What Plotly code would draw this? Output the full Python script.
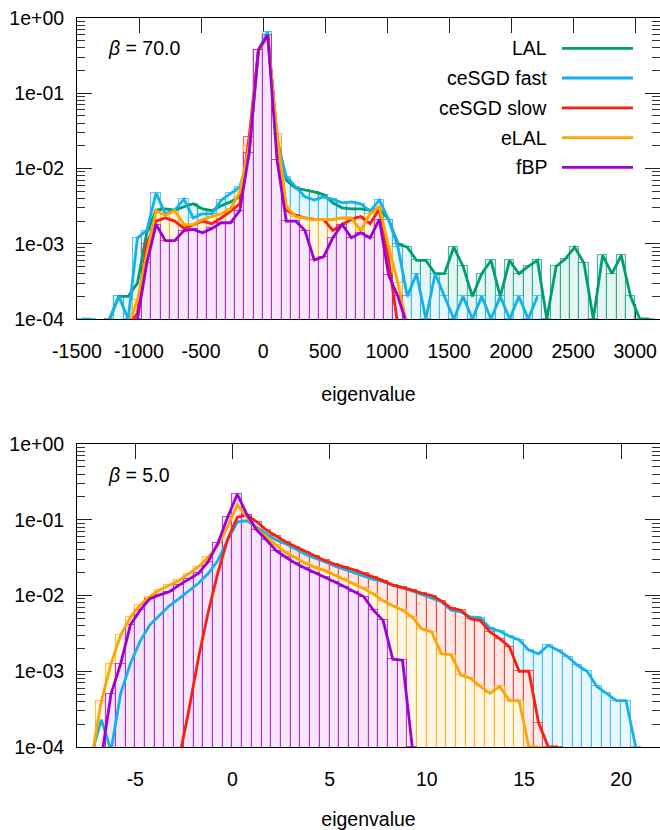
import plotly.graph_objects as go

# ---------------- data ----------------
SERIES = ["LAL", "ceSGD fast", "ceSGD slow", "eLAL", "fBP"]
COLORS = ["#009e73", "#14b2e8", "#fa2010", "#ffa500", "#a000d2"]

TOP_BINS = [-1462.5, -1387.5, -1312.5, -1237.5, -1162.5, -1087.5, -1012.5, -937.5,
            -862.5, -787.5, -712.5, -637.5, -562.5, -487.5, -412.5, -337.5,
            -262.5, -187.5, -112.5, -37.5, 37.5, 112.5, 187.5, 262.5,
            337.5, 412.5, 487.5, 562.5, 637.5, 712.5, 787.5, 862.5,
            937.5, 1012.5, 1087.5, 1162.5, 1237.5, 1312.5, 1387.5, 1462.5,
            1537.5, 1612.5, 1687.5, 1762.5, 1837.5, 1912.5, 1987.5, 2062.5,
            2137.5, 2212.5, 2287.5, 2362.5, 2437.5, 2512.5, 2587.5, 2662.5,
            2737.5, 2812.5, 2887.5, 2962.5, 3037.5, 3112.5]

TOP_LAL = [None, None, None, 1e-4, 2e-4, 2e-4, 3e-4, 1.4e-3,
           2.8e-3, 2.9e-3, 2.8e-3, 3.1e-3, 3.4e-3, 2.9e-3, 2.75e-3, 3.2e-3,
           3.6e-3, 4.2e-3, 0.02, 0.37, 0.60, 0.025, 7.0e-3, 5.5e-3,
           5.2e-3, 4.9e-3, 4.5e-3, 3.5e-3, 3.0e-3, 2.9e-3, 2.9e-3, 2.8e-3,
           2.9e-3, 2.1e-3, 1.0e-3, 9e-4, 6e-4, 6e-4, 4e-4, 4e-4,
           9e-4, 5e-4, 2e-4, 4e-4, 6e-4, 2e-4, 6e-4, 4e-4,
           5e-4, 6e-4, 1e-4, 5e-4, 6.3e-4, 9e-4, 5.5e-4, 1e-4,
           7e-4, 4e-4, 7e-4, 2e-4, 1e-4, 1e-4]

TOP_FAST = [1e-4, 1e-4, None, 1e-4, 2e-4, 1e-4, 1.2e-3, 1.5e-3,
            4.7e-3, 2.5e-3, 2.8e-3, 3.9e-3, 2.2e-3, 2.5e-3, 2.5e-3, 3.8e-3,
            4.7e-3, 5.7e-3, 0.015, 0.37, 0.66, 0.022, 7.8e-3, 5.7e-3,
            4.2e-3, 3.8e-3, 4.2e-3, 3.9e-3, 3.5e-3, 3.6e-3, 3.4e-3, 2.7e-3,
            3.8e-3, 2.1e-3, 9e-4, 2e-4, 4e-4, 1e-4, 4e-4, 2e-4,
            1e-4, 2e-4, 1e-4, 2e-4, 1e-4, 2e-4, 1e-4, 2e-4,
            1e-4, 2e-4, None, None, None, None, None, None,
            None, None, None, None, None, None]

TOP_SLOW = [None, None, None, None, None, 8e-5, 1.2e-4, 1.0e-3,
            2.0e-3, 2.2e-3, 2.0e-3, 1.6e-3, 1.8e-3, 2.0e-3, 1.85e-3, 2.2e-3,
            2.7e-3, 3.4e-3, 0.026, 0.37, 0.58, 0.027, 2.8e-3, 2.4e-3,
            2.2e-3, 2.1e-3, 2.1e-3, 1.5e-3, 1.8e-3, 2.1e-3, 2.3e-3, 1.85e-3,
            2.9e-3, 6e-4, 8e-5, None, None, None, None, None,
            None, None, None, None, None, None, None, None,
            None, None, None, None, None, None, None, None,
            None, None, None, None, None, None]

TOP_ELAL = [None, None, None, None, None, 8e-5, 1.8e-4, 7.4e-4,
            2.75e-3, 2.4e-3, 2.75e-3, 1.8e-3, 1.8e-3, 2.1e-3, 2.3e-3, 2.5e-3,
            2.9e-3, 4.9e-3, 0.02, 0.36, 0.565, 0.029, 3.1e-3, 2.3e-3,
            2.2e-3, 2.1e-3, 2.1e-3, 2.1e-3, 2.2e-3, 2.2e-3, 1.5e-3, 2.5e-3,
            3.1e-3, 9e-4, 3e-4, 8e-5, None, None, None, None,
            None, None, None, None, None, None, None, None,
            None, None, None, None, None, None, None, None,
            None, None, None, None, None, None]

TOP_FBP = [None, None, None, None, None, None, 1e-4, 5.5e-4,
           1.8e-3, 1.1e-3, 1.1e-3, 1.5e-3, 1.55e-3, 1.4e-3, 1.6e-3, 1.9e-3,
           1.9e-3, 2.75e-3, 0.016, 0.376, 0.594, 0.013, 2.0e-3, 2.0e-3,
           1.5e-3, 6.1e-4, 6.7e-4, 1.2e-3, 1.8e-3, 1.2e-3, 1.4e-3, 1.2e-3,
           2.1e-3, 3.8e-4, 2e-4, 8e-5, None, None, None, None,
           None, None, None, None, None, None, None, None,
           None, None, None, None, None, None, None, None,
           None, None, None, None, None, None]

BOT_BINS = [-7.25, -6.75, -6.25, -5.75, -5.25, -4.75, -4.25, -3.75,
            -3.25, -2.75, -2.25, -1.75, -1.25, -0.75, -0.25, 0.25,
            0.75, 1.25, 1.75, 2.25, 2.75, 3.25, 3.75, 4.25,
            4.75, 5.25, 5.75, 6.25, 6.75, 7.25, 7.75, 8.25,
            8.75, 9.25, 9.75, 10.25, 10.75, 11.25, 11.75, 12.25,
            12.75, 13.25, 13.75, 14.25, 14.75, 15.25, 15.75, 16.25,
            16.75, 17.25, 17.75, 18.25, 18.75, 19.25, 19.75, 20.25,
            20.75]

BOT_FAST = [8e-5, 2.3e-4, 9e-5, 5.1e-4, 1.27e-3, 2.5e-3, 4.1e-3, 5.4e-3,
            7.3e-3, 9.1e-3, 0.0115, 0.0145, 0.0195, 0.029, 0.054, 0.094,
            0.097, 0.079, 0.065, 0.054, 0.048, 0.041, 0.035, 0.031,
            0.028, 0.0245, 0.0221, 0.020, 0.018, 0.0163, 0.0152, 0.0137,
            0.0128, 0.0115, 0.0101, 9.1e-3, 8.3e-3, 6.4e-3, 6.1e-3, 5.2e-3,
            5.1e-3, 3.7e-3, 3.4e-3, 2.9e-3, 2.6e-3, 1.9e-3, 1.7e-3, 2.2e-3,
            1.9e-3, 1.56e-3, 1.2e-3, 1.0e-3, 6.3e-4, 5.1e-4, 4.1e-4, 4.1e-4,
            1e-4]

BOT_SLOW = [None, None, None, None, None, None, None, None,
            None, 7e-5, 3e-4, 1.5e-3, 6e-3, 0.02, 0.055, 0.108,
            0.115, 0.094, 0.073, 0.061, 0.051, 0.044, 0.038, 0.033,
            0.029, 0.026, 0.024, 0.0218, 0.0196, 0.0177, 0.0157, 0.0137,
            0.0128, 0.0118, 0.0107, 0.0100, 8.5e-3, 6.8e-3, 6.4e-3, 4.9e-3,
            4.7e-3, 3.3e-3, 2.7e-3, 2.1e-3, 1.0e-3, 1.0e-3, 2.1e-4, 1e-4,
            1e-4, None, None, None, None, None, None, None,
            None]

BOT_ELAL = [7e-5, 4e-4, 1.26e-3, 3.0e-3, 5.2e-3, 7.5e-3, 9.7e-3, 0.0118,
            0.0137, 0.0158, 0.0195, 0.024, 0.032, 0.046, 0.081, 0.157,
            0.108, 0.075, 0.060, 0.046, 0.037, 0.031, 0.0266, 0.0235,
            0.0213, 0.0187, 0.0163, 0.0142, 0.0124, 0.0105, 8.5e-3, 7.3e-3,
            6.4e-3, 5.2e-3, 3.6e-3, 3.3e-3, 1.7e-3, 1.65e-3, 8.9e-4, 8.1e-4,
            6.3e-4, 5.1e-4, 6.3e-4, 4.1e-4, 4.1e-4, 1e-4, 1e-4, None,
            None, None, None, None, None, None, None, None,
            None]

BOT_FBP = [None, 7e-5, 5.0e-4, 1.26e-3, 4.1e-3, 6.4e-3, 9.1e-3, 0.0102,
           0.0112, 0.0137, 0.0164, 0.0196, 0.028, 0.049, 0.108, 0.217,
           0.116, 0.073, 0.054, 0.039, 0.032, 0.0266, 0.0229, 0.020,
           0.0177, 0.0152, 0.0131, 0.0112, 9.7e-3, 6.4e-3, 4.7e-3, 1.44e-3,
           1.4e-3, 1e-4, None, None, None, None, None, None,
           None, None, None, None, None, None, None, None,
           None, None, None, None, None, None, None, None,
           None]

TOP_SERIES = [TOP_LAL, TOP_FAST, TOP_SLOW, TOP_ELAL, TOP_FBP]
BOT_SERIES = [None, BOT_FAST, BOT_SLOW, BOT_ELAL, BOT_FBP]

Y_TICKVALS = [1e-4, 1e-3, 1e-2, 1e-1, 1]
Y_TICKTEXT = ["1e-04", "1e-03", "1e-02", "1e-01", "1e+00"]
TOP_XTICKS = [-1500, -1000, -500, 0, 500, 1000, 1500, 2000, 2500, 3000]
TOP_XTEXT = ["-1500", "-1000", "-500", "0", "500", "1000", "1500", "2000", "2500", "3000"]
BOT_XTICKS = [-5, 0, 5, 10, 15, 20]
BOT_XTEXT = ["-5", "0", "5", "10", "15", "20"]
PANEL_LABELS = ["70.0", "5.0"]

# ---------------- style ----------------
FONT = "Liberation Sans, Arial, sans-serif"
FS = 19.5
TOP_WIDTH = 75
BOT_WIDTH = 0.5
W, H = 660, 830
ML, MR, MT, MB = 77, 0, 18, 83
PW = W - ML - MR
PH = H - MT - MB


def hexrgb(h):
    h = h.lstrip("#")
    return int(h[0:2], 16), int(h[2:4], 16), int(h[4:6], 16)


def pastel(h, a):
    r, g, b = hexrgb(h)
    return "rgb(%d,%d,%d)" % (round(255 * (1 - a) + r * a), round(255 * (1 - a) + g * a),
                              round(255 * (1 - a) + b * a))


def rgba(h, a):
    r, g, b = hexrgb(h)
    return "rgba(%d,%d,%d,%.3f)" % (r, g, b, a)


def py(ypx):
    return (H - MB - ypx) / PH


def px(xpx):
    return (xpx - ML) / PW


fig = go.Figure()

# histogram boxes (opaque pastel fill, later series on top)
for name, col, tv, bv in zip(SERIES, COLORS, TOP_SERIES, BOT_SERIES):
    fig.add_trace(go.Bar(x=TOP_BINS, y=tv, width=TOP_WIDTH, xaxis="x", yaxis="y",
                         marker=dict(color=pastel(col, 0.10), line=dict(color=rgba(col, 0.7), width=1.1)),
                         showlegend=False, hoverinfo="skip"))
    if bv is not None:
        fig.add_trace(go.Bar(x=BOT_BINS, y=bv, width=BOT_WIDTH, xaxis="x2", yaxis="y2",
                             marker=dict(color=pastel(col, 0.10), line=dict(color=rgba(col, 0.7), width=1.1)),
                             showlegend=False, hoverinfo="skip"))

# lines
for name, col, tv, bv in zip(SERIES, COLORS, TOP_SERIES, BOT_SERIES):
    fig.add_trace(go.Scatter(x=TOP_BINS, y=tv, mode="lines", name=name, xaxis="x", yaxis="y",
                             line=dict(color=col, width=2.8), connectgaps=False, showlegend=False))
    if bv is not None:
        fig.add_trace(go.Scatter(x=BOT_BINS, y=bv, mode="lines", name=name, xaxis="x2", yaxis="y2",
                                 line=dict(color=col, width=2.8), connectgaps=False, showlegend=False))

minor_vals = [m * 10 ** e for e in range(-4, 0) for m in range(2, 10)]

yax = dict(type="log", range=[-4, 0], tickmode="array", tickvals=Y_TICKVALS, ticktext=Y_TICKTEXT,
           ticks="inside", ticklen=15, tickwidth=1, tickcolor="#222", mirror="ticks",
           showline=True, linecolor="black", linewidth=1, showgrid=False, zeroline=False,
           ticklabelstandoff=8, automargin=False, layer="below traces",
           minor=dict(tickmode="array", tickvals=minor_vals, ticks="inside", ticklen=8,
                      tickwidth=1, tickcolor="#333", showgrid=False),
           tickfont=dict(family=FONT, size=FS, color="black"))

xax_common = dict(ticks="inside", ticklen=15, tickwidth=1, tickcolor="#222", mirror="ticks",
                  showline=True, linecolor="black", linewidth=1, showgrid=False, zeroline=False,
                  ticklabelstandoff=15, automargin=False, tickmode="array", layer="below traces",
                  tickfont=dict(family=FONT, size=FS, color="black"))

fig.update_layout(
    width=W, height=H, margin=dict(l=ML, r=MR, t=MT, b=MB, autoexpand=False),
    paper_bgcolor="white", plot_bgcolor="white", barmode="overlay", bargap=0,
    font=dict(family=FONT, size=FS, color="black"),
    xaxis=dict(domain=[0, 1], anchor="y", range=[-1500, 3200], tickvals=TOP_XTICKS, ticktext=TOP_XTEXT,
               title=dict(text="eigenvalue", standoff=25, font=dict(family=FONT, size=FS)), **xax_common),
    yaxis=dict(domain=[py(319), 1], anchor="x", **yax),
    xaxis2=dict(domain=[0, 1], anchor="y2", range=[-8, 22], tickvals=BOT_XTICKS, ticktext=BOT_XTEXT,
                title=dict(text="eigenvalue", standoff=25, font=dict(family=FONT, size=FS)), **xax_common),
    yaxis2=dict(domain=[0, py(444)], anchor="x2", **yax),
)

annotations = []
shapes = []
# panel labels
for lab, ypix in zip(PANEL_LABELS, [48, 475]):
    annotations.append(dict(text="<i>β</i> = " + lab, x=px(106), y=py(ypix), xref="paper", yref="paper",
                            xanchor="left", yanchor="middle", showarrow=False,
                            font=dict(family=FONT, size=FS, color="black")))
# legend (text left of line sample, gnuplot style)
leg_y = [48.3, 78.0, 107.8, 137.6, 167.3]
for name, col, ypix in zip(SERIES, COLORS, leg_y):
    annotations.append(dict(text=name, x=px(549), y=py(ypix), xref="paper", yref="paper",
                            xanchor="right", yanchor="middle", showarrow=False,
                            font=dict(family=FONT, size=FS, color="black")))
    shapes.append(dict(type="line", xref="paper", yref="paper", x0=px(562), x1=px(633),
                       y0=py(ypix), y1=py(ypix), line=dict(color=col, width=2.8)))

fig.update_layout(annotations=annotations, shapes=shapes)
fig.write_html("out.html", config={"displayModeBar": False},
               post_script="document.body.style.margin='0';document.body.style.padding='0';"
                           "document.body.style.overflow='hidden';")
